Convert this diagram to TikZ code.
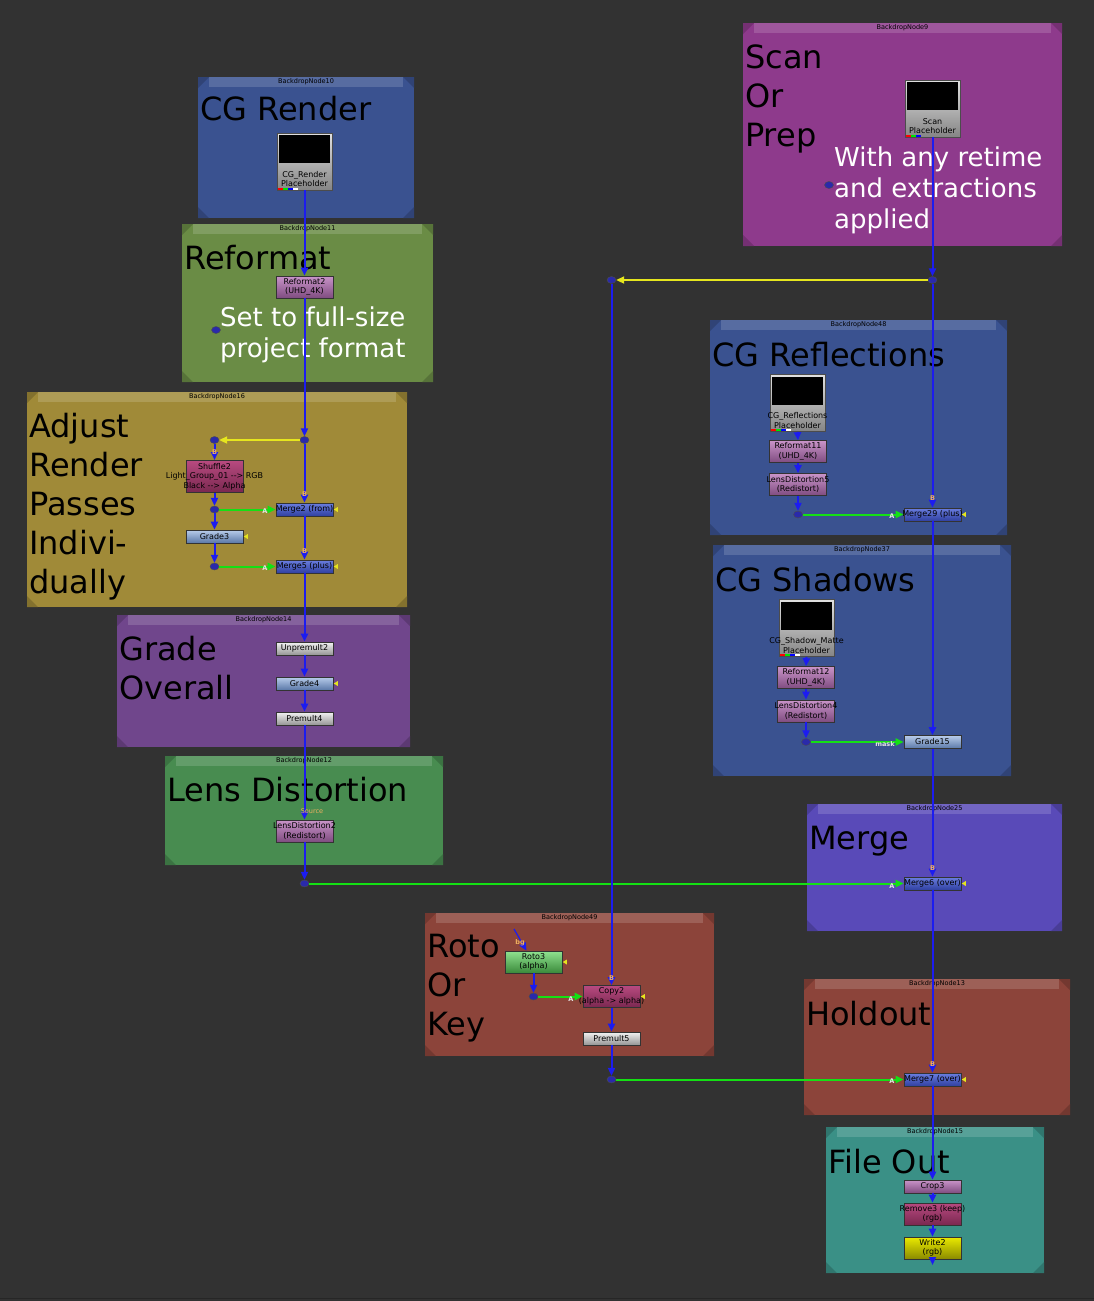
\documentclass[tikz,border=0pt]{standalone}
\usepackage{fontspec}
\setmainfont{DejaVu Sans}
\usetikzlibrary{arrows.meta,shapes.geometric}
\definecolor{bgc}{HTML}{323232}
\definecolor{bdBlue}{HTML}{3A5290}
\definecolor{bdGreen}{HTML}{6A8C45}
\definecolor{bdOlive}{HTML}{A08A38}
\definecolor{bdPurple}{HTML}{70468C}
\definecolor{bdLens}{HTML}{488C50}
\definecolor{bdMag}{HTML}{8E3A8C}
\definecolor{bdMerge}{HTML}{594AB8}
\definecolor{bdRed}{HTML}{8C443A}
\definecolor{bdTeal}{HTML}{3A9086}
\definecolor{pipeBlue}{HTML}{1C1CF0}
\definecolor{pipeGreen}{HTML}{14E014}
\definecolor{pipeYellow}{HTML}{E6E61E}
\definecolor{dotBlue}{HTML}{2A2AAA}
\definecolor{lblOrange}{HTML}{F0B060}
\definecolor{pinkT}{HTML}{C994C9}\definecolor{pinkB}{HTML}{7F4C80}
\definecolor{shufT}{HTML}{B84A80}\definecolor{shufB}{HTML}{7A2850}
\definecolor{gradeT}{HTML}{B8CCEA}\definecolor{gradeB}{HTML}{5A78A8}
\definecolor{mergeT}{HTML}{6A7EE0}\definecolor{mergeB}{HTML}{3040A0}
\definecolor{premT}{HTML}{F2F2F2}\definecolor{premB}{HTML}{959595}
\definecolor{rotoT}{HTML}{90E290}\definecolor{rotoB}{HTML}{3A8A3A}
\definecolor{writeT}{HTML}{EAEA00}\definecolor{writeB}{HTML}{8A8A00}
\definecolor{readT}{HTML}{E0E0E0}\definecolor{readB}{HTML}{858585}
\newcommand\nkfont{\fontsize{8}{9.5}\selectfont}
\newcommand\nkl[1]{\makebox[50pt][c]{#1}}
\newcommand\nkbackdrop[7]{%
  \fill[#6] (#2,#3) rectangle (#4,#5);
  \fill[#6!85!white] ({#2+11},#3) rectangle ({#4-11},{#3+10});
  \fill[#6!82!black] (#2,#3) -- ({#2+11},#3) -- (#2,{#3+11}) -- cycle;
  \fill[#6!82!black] (#4,#3) -- ({#4-11},#3) -- (#4,{#3+11}) -- cycle;
  \fill[#6!82!black] (#2,#5) -- ({#2+11},#5) -- (#2,{#5-11}) -- cycle;
  \fill[#6!82!black] (#4,#5) -- ({#4-11},#5) -- (#4,{#5-11}) -- cycle;
  \node[bdtitle] (#1) at ({(#2+#4)/2},{#3+5}) {#7};
}
\newcommand\masktri[1]{\fill[pipeYellow] ([xshift=0.5pt]#1.east) -- ++(4pt,2.5pt) -- ++(0,-5pt) -- cycle;}
\begin{document}
\begin{tikzpicture}[x=1pt,y=-1pt,
  bdtitle/.style={font=\fontsize{6.5}{7}\selectfont, text=black, inner sep=0pt},
  big/.style={font=\fontsize{32}{39}\selectfont, anchor=north west, inner sep=0pt, align=left, text=black},
  note/.style={font=\fontsize{26}{31}\selectfont, anchor=north west, inner sep=0pt, align=left, text=white},
  nk/.style={draw=black!80, line width=0.6pt, minimum width=57pt, inner sep=0pt, align=center, font=\nkfont, text=black},
  one/.style={nk, minimum height=13pt},
  two/.style={nk, minimum height=22pt},
  pinkn/.style={top color=pinkT, bottom color=pinkB},
  shufn/.style={top color=shufT, bottom color=shufB},
  graden/.style={top color=gradeT, bottom color=gradeB},
  mergen/.style={top color=mergeT, bottom color=mergeB},
  premn/.style={top color=premT, bottom color=premB},
  roton/.style={top color=rotoT, bottom color=rotoB},
  writen/.style={top color=writeT, bottom color=writeB},
  readn/.style={draw=black!70, line width=0.6pt, minimum width=55pt, minimum height=57pt, inner sep=0pt,
    top color=readT, bottom color=readB},
  readlbl/.style={anchor=south, yshift=3pt, align=center, font=\nkfont, inner sep=0pt, text=black},
  thumbw/.style={path picture={
    \fill[black] ([xshift=2pt,yshift=-2pt]path picture bounding box.north west) rectangle ([xshift=-2pt,yshift=-30pt]path picture bounding box.north east);
    \fill[red] ([xshift=1pt,yshift=0.5pt]path picture bounding box.south west) rectangle ++(5pt,2pt);
    \fill[green!90!black] ([xshift=6pt,yshift=0.5pt]path picture bounding box.south west) rectangle ++(5pt,2pt);
    \fill[blue] ([xshift=11pt,yshift=0.5pt]path picture bounding box.south west) rectangle ++(5pt,2pt);
    \fill[white] ([xshift=16pt,yshift=0.5pt]path picture bounding box.south west) rectangle ++(5pt,2pt);}},
  thumb/.style={path picture={
    \fill[black] ([xshift=2pt,yshift=-2pt]path picture bounding box.north west) rectangle ([xshift=-2pt,yshift=-30pt]path picture bounding box.north east);
    \fill[red] ([xshift=1pt,yshift=0.5pt]path picture bounding box.south west) rectangle ++(5pt,2pt);
    \fill[green!90!black] ([xshift=6pt,yshift=0.5pt]path picture bounding box.south west) rectangle ++(5pt,2pt);
    \fill[blue] ([xshift=11pt,yshift=0.5pt]path picture bounding box.south west) rectangle ++(5pt,2pt);}},
  dot/.style={ellipse, minimum width=9pt, minimum height=7pt, inner sep=0pt, fill=dotBlue, draw=black!70, line width=0.4pt},
  pipe/.style={draw=pipeBlue, line width=2pt, -{Triangle[length=8pt,width=7pt]}},
  gpipe/.style={draw=pipeGreen, line width=2pt, -{Triangle[length=8pt,width=7pt]}},
  ypipe/.style={draw=pipeYellow, line width=2pt, -{Triangle[length=8pt,width=7pt]}},
  inB/.style={font=\fontsize{6.5}{7}\selectfont\bfseries, text=lblOrange, inner sep=0pt},
  inA/.style={font=\fontsize{6.5}{7}\selectfont\bfseries, text=black!10, inner sep=0pt},
]
\useasboundingbox (0,0) rectangle (1094,1301);
\fill[bgc] (0,0) rectangle (1094,1301);
\draw[black!85, line width=1.2pt] (0,1298.5) -- (1094,1298.5);

% ---------- backdrops ----------
\nkbackdrop{bd10}{198}{77}{414}{218}{bdBlue}{BackdropNode10}
\nkbackdrop{bd11}{182}{224}{433}{382}{bdGreen}{BackdropNode11}
\nkbackdrop{bd16}{27}{392}{407}{607}{bdOlive}{BackdropNode16}
\nkbackdrop{bd14}{117}{615}{410}{747}{bdPurple}{BackdropNode14}
\nkbackdrop{bd12}{165}{756}{443}{865}{bdLens}{BackdropNode12}
\nkbackdrop{bd9}{743}{23}{1062}{246}{bdMag}{BackdropNode9}
\nkbackdrop{bd48}{710}{320}{1007}{535}{bdBlue}{BackdropNode48}
\nkbackdrop{bd37}{713}{545}{1011}{776}{bdBlue}{BackdropNode37}
\nkbackdrop{bd25}{807}{804}{1062}{931}{bdMerge}{BackdropNode25}
\nkbackdrop{bd49}{425}{913}{714}{1056}{bdRed}{BackdropNode49}
\nkbackdrop{bd13}{804}{979}{1070}{1115}{bdRed}{BackdropNode13}
\nkbackdrop{bd15}{826}{1127}{1044}{1273}{bdTeal}{BackdropNode15}

% ---------- backdrop labels ----------
\node[big] (tCG) at (200,96) {CG Render};
\node[big] (tRef) at (184,245) {Reformat};
\node[big] (tAdj) at (29,413) {Adjust\\Render\\Passes\\Indivi-\\dually};
\node[big] (tGrade) at (119,636) {Grade\\Overall};
\node[big] (tLens) at (167,777) {Lens Distortion};
\node[big] (tScan) at (745,45) {Scan\\Or\\Prep};
\node[big] (tRefl) at (712,342) {CG Reflections};
\node[big] (tShad) at (715,567) {CG Shadows};
\node[big] (tMerge) at (809,826) {Merge};
\node[big] (tHold) at (806,1001) {Holdout};
\node[big] (tRoto) at (427,934) {Roto\\Or\\Key};
\node[big] (tFile) at (828,1149) {File Out};
\node[note] (nScan) at (834,147) {With any retime\\and extractions\\applied};
\node[note] (nRef) at (220,307) {Set to full-size\\project format};

% ---------- nodes ----------
\node[readn,thumbw,label={[readlbl]south:{\nkl{CG\_Render}\\\nkl{Placeholder}}}] (cgr) at (304.5,161.5) {};
\node[readn,thumb,label={[readlbl]south:{\nkl{Scan}\\\nkl{Placeholder}}}] (scan) at (932.5,108.5) {};
\node[readn,thumbw,label={[readlbl]south:{\nkl{CG\_Reflections}\\\nkl{Placeholder}}}] (cgrefl) at (797.5,403) {};
\node[readn,thumbw,label={[readlbl]south:{\nkl{CG\_Shadow\_Matte}\\\nkl{Placeholder}}}] (cgshad) at (806.5,628) {};

\node[two,pinkn] (ref2) at (304.5,287) {\nkl{Reformat2}\\\nkl{(UHD\_4K)}};
\node[nk,shufn,minimum height=32pt,anchor=north] (shuf) at (214.5,460) {\nkl{Shuffle2}\\\nkl{Light\_Group\_01 -{}-{}> RGB}\\\nkl{Black -{}-{}> Alpha}};
\node[one,mergen] (m2) at (304.5,509.5) {\nkl{Merge2 (from)}};
\node[one,graden] (g3) at (214.5,536.5) {\nkl{Grade3}};
\node[one,mergen] (m5) at (304.5,566.5) {\nkl{Merge5 (plus)}};
\node[one,premn] (unp) at (304.5,648.5) {\nkl{Unpremult2}};
\node[one,graden] (g4) at (304.5,683.5) {\nkl{Grade4}};
\node[one,premn] (pm4) at (304.5,718.5) {\nkl{Premult4}};
\node[two,pinkn] (ld2) at (304.5,831) {\nkl{LensDistortion2}\\\nkl{(Redistort)}};

\node[two,pinkn] (ref11) at (798,451.5) {\nkl{Reformat11}\\\nkl{(UHD\_4K)}};
\node[two,pinkn] (ld5) at (798,484.5) {\nkl{LensDistortion5}\\\nkl{(Redistort)}};
\node[one,mergen] (m29) at (932.5,514.5) {\nkl{Merge29 (plus)}};
\node[two,pinkn] (ref12) at (806,677.5) {\nkl{Reformat12}\\\nkl{(UHD\_4K)}};
\node[two,pinkn] (ld4) at (806,711) {\nkl{LensDistortion4}\\\nkl{(Redistort)}};
\node[one,graden] (g15) at (932.5,742) {\nkl{Grade15}};
\node[one,mergen] (m6) at (932.5,883.5) {\nkl{Merge6 (over)}};

\node[two,roton] (roto) at (533.5,962) {\nkl{Roto3}\\\nkl{(alpha)}};
\node[two,shufn] (copy) at (611.5,996.5) {\nkl{Copy2}\\\nkl{(alpha -> alpha)}};
\node[one,premn] (pm5) at (611.5,1038.5) {\nkl{Premult5}};
\node[one,mergen] (m7) at (932.5,1079.5) {\nkl{Merge7 (over)}};

\node[one,pinkn] (crop) at (932.5,1186.5) {\nkl{Crop3}};
\node[two,shufn] (rem) at (932.5,1214) {\nkl{Remove3 (keep)}\\\nkl{(rgb)}};
\node[two,writen] (write) at (932.5,1248) {\nkl{Write2}\\\nkl{(rgb)}};

% dots
\node[dot] (d1) at (304.5,440) {};
\node[dot] (d2) at (214.5,440) {};
\node[dot] (d3) at (214.5,509.5) {};
\node[dot] (d4) at (214.5,566.5) {};
\node[dot] (d5) at (304.5,883.5) {};
\node[dot] (d6) at (932.5,280) {};
\node[dot] (d7) at (611.5,280) {};
\node[dot] (d8) at (798,514.5) {};
\node[dot] (d9) at (806,742) {};
\node[dot] (d10) at (533.5,996.5) {};
\node[dot] (d11) at (611.5,1079.5) {};
\node[dot] (d12) at (216,330) {};
\node[dot] (d13) at (829,185) {};

\coordinate (wout) at (932.5,1265);
\coordinate (bgsrc) at (514,929);

% ---------- connectors ----------
\draw[pipe] (cgr.south) -- (ref2.north);
\draw[pipe] (ref2.south) -- (d1.north);
\draw[pipe] (d1.south) -- (m2.north);
\draw[pipe] (m2.south) -- (m5.north);
\draw[pipe] (m5.south) -- (unp.north);
\draw[pipe] (unp.south) -- (g4.north);
\draw[pipe] (g4.south) -- (pm4.north);
\draw[pipe] (pm4.south) -- (ld2.north);
\draw[pipe] (ld2.south) -- (d5.north);
\draw[ypipe] (d1.west) -- (d2.east);
\draw[pipe] (d2.south) -- (shuf.north);
\draw[pipe] (shuf.south) -- (d3.north);
\draw[pipe] (d3.south) -- (g3.north);
\draw[pipe] (g3.south) -- (d4.north);
\draw[gpipe] (d3.east) -- (m2.west);
\draw[gpipe] (d4.east) -- (m5.west);

\draw[pipe] (scan.south) -- (d6.north);
\draw[ypipe] (d6.west) -- (d7.east);
\draw[pipe] (d6.south) -- (m29.north);
\draw[pipe] (m29.south) -- (g15.north);
\draw[pipe] (g15.south) -- (m6.north);
\draw[pipe] (m6.south) -- (m7.north);
\draw[pipe] (m7.south) -- (crop.north);
\draw[pipe] (crop.south) -- (rem.north);
\draw[pipe] (rem.south) -- (write.north);
\draw[pipe] (write.south) -- (wout);

\draw[pipe] (cgrefl.south) -- (ref11.north);
\draw[pipe] (ref11.south) -- (ld5.north);
\draw[pipe] (ld5.south) -- (d8.north);
\draw[gpipe] (d8.east) -- (m29.west);
\draw[pipe] (cgshad.south) -- (ref12.north);
\draw[pipe] (ref12.south) -- (ld4.north);
\draw[pipe] (ld4.south) -- (d9.north);
\draw[gpipe] (d9.east) -- (g15.west);
\draw[gpipe] (d5.east) -- (m6.west);

\draw[pipe] (d7.south) -- (copy.north);
\draw[pipe, line width=1.2pt] (bgsrc) -- ([xshift=-7pt]roto.north);
\draw[pipe] (roto.south) -- (d10.north);
\draw[gpipe] (d10.east) -- (copy.west);
\draw[pipe] (copy.south) -- (pm5.north);
\draw[pipe] (pm5.south) -- (d11.north);
\draw[gpipe] (d11.east) -- (m7.west);

% mask inputs
\masktri{m2}
\masktri{m5}
\masktri{g3}
\masktri{g4}
\masktri{m29}
\masktri{m6}
\masktri{m7}
\masktri{roto}
\masktri{copy}

% input labels
\node[inB] (lb1) at (214.5,452) {B};
\node[inB] (lb2) at (304.5,494) {B};
\node[inB] (lb3) at (304.5,551) {B};
\node[inB] (lb4) at (932.5,498) {B};
\node[inB] (lb5) at (932.5,868) {B};
\node[inB] (lb6) at (932.5,1064) {B};
\node[inB] (lb7) at (611.5,978) {B};
\node[inA] (la1) at (265,511.5) {A};
\node[inA] (la2) at (265,568.5) {A};
\node[inA] (la3) at (892,516.5) {A};
\node[inA] (la4) at (892,886) {A};
\node[inA] (la5) at (892,1081.5) {A};
\node[inA] (la6) at (571,999) {A};
\node[inA] (lmask) at (885,744) {mask};
\node[inB,font=\fontsize{6.5}{7}\selectfont] (lsrc) at (312,811) {Source};
\node[inB] (lbg) at (520,943) {bg};
\end{tikzpicture}
\end{document}
